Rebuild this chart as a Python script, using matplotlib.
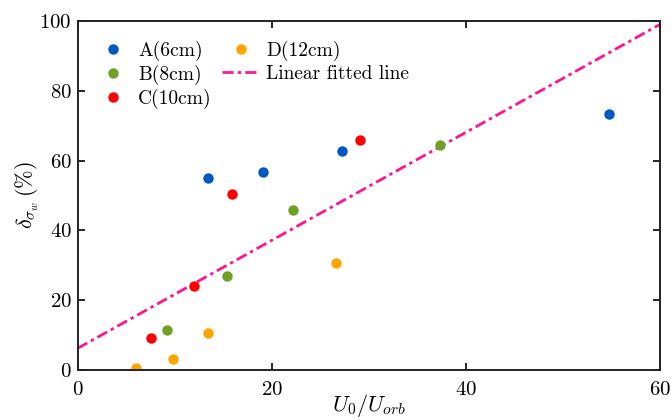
import numpy as np
import matplotlib
matplotlib.use("Agg")
import matplotlib.pyplot as plt

plt.rcParams['font.family'] = 'serif'
plt.rcParams['font.serif'] = ['cmr10']
plt.rcParams['mathtext.fontset'] = 'cm'
plt.rcParams['axes.formatter.use_mathtext'] = True

# datos
xA = [13.4, 19.1, 27.2, 54.8]
yA = [54.9, 56.7, 62.7, 73.4]
xB = [9.2, 15.4, 22.2, 37.3]
yB = [11.4, 26.9, 45.8, 64.6]
xC = [7.6, 12.0, 15.9, 29.1]
yC = [9.3, 24.2, 50.5, 66.0]
xD = [6.0, 9.8, 13.4, 26.6]
yD = [0.7, 3.2, 10.5, 30.7]

# recta ajustada
pendiente = 1.547
intercepto = 6.2
x_fit = np.array([0, 60])
y_fit = pendiente * x_fit + intercepto

fig = plt.figure(figsize=(6.71, 4.2), dpi=100)
ax = fig.add_axes([0.1155, 0.119, 0.868, 0.831])

ms = 7.5
ax.plot(xA, yA, 'o', color='#0058C4', ms=ms, mec='none', label='A(6cm)')
ax.plot(xB, yB, 'o', color='#70A126', ms=ms, mec='none', label='B(8cm)')
ax.plot(xC, yC, 'o', color='#FF0000', ms=ms, mec='none', label='C(10cm)')
ax.plot(xD, yD, 'o', color='#FFA500', ms=ms, mec='none', label='D(12cm)')
ax.plot(x_fit, y_fit, color='#FF1493', lw=2, dashes=(4, 1.5, 1.2, 1.5),
        label='Linear fitted line', zorder=1)

ax.set_xlim(0, 60)
ax.set_ylim(0, 100)
ax.set_xticks([0, 20, 40, 60])
ax.set_yticks([0, 20, 40, 60, 80, 100])
ax.tick_params(direction='in', top=True, right=True, length=5, width=1.2,
               labelsize=15)
ax.tick_params(axis='x', pad=8)
ax.tick_params(axis='y', pad=4)
for s in ax.spines.values():
    s.set_linewidth(1.4)
    s.set_color('#222222')

ax.set_xlabel(r'$U_0/U_{orb}$', fontsize=16, labelpad=-5)
ax.set_ylabel(r'$\delta_{\sigma_w}\,(\%)$', fontsize=16, labelpad=-1)

ax.legend(loc='upper left', ncol=2, frameon=False, fontsize=14,
          handlelength=2.0, handletextpad=0.3, columnspacing=0.5,
          labelspacing=0.2, borderaxespad=0, bbox_to_anchor=(0.014, 0.966))

plt.savefig('out.png', dpi=100)
